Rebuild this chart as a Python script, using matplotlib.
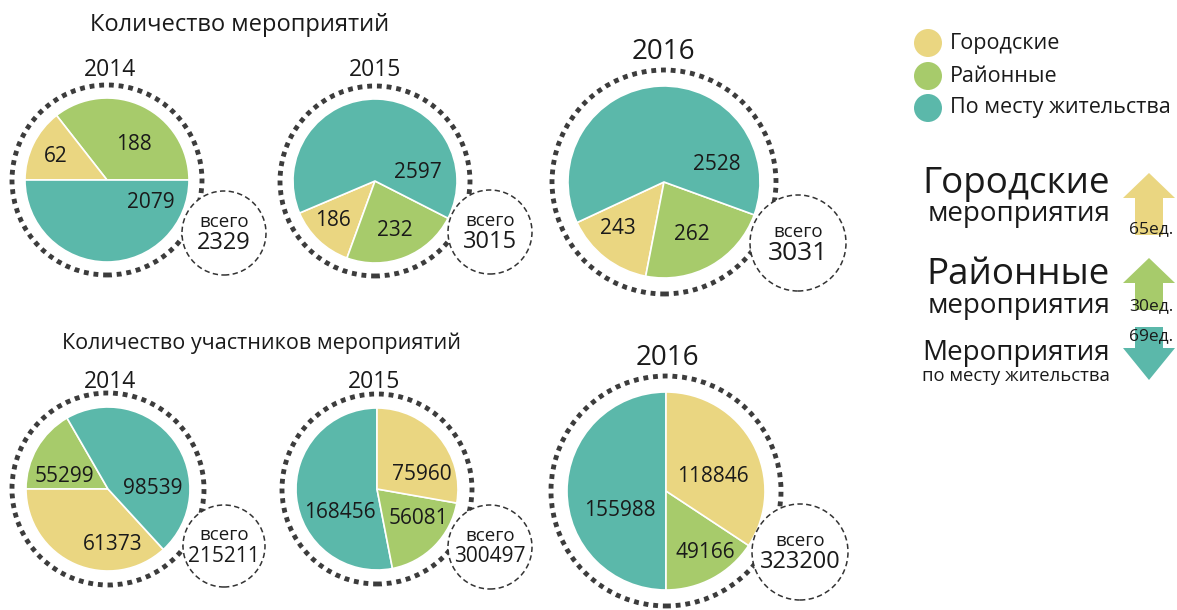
import matplotlib
matplotlib.use("Agg")
import matplotlib.pyplot as plt
from matplotlib.patches import Circle, FancyArrow

plt.rcParams['font.family'] = ['Open Sans', 'DejaVu Sans']

# ---------------- data ----------------
categories = ['Городские', 'Районные', 'По месту жительства']
years = ['2014', '2015', '2016']

events_city = [62, 186, 243]
events_district = [188, 232, 262]
events_residence = [2079, 2597, 2528]
events_total = [2329, 3015, 3031]

participants_city = [61373, 75960, 118846]
participants_district = [55299, 56081, 49166]
participants_residence = [98539, 168456, 155988]
participants_total = [215211, 300497, 323200]

# slice sizes as drawn in the infographic (degrees; order: city, district, residence)
events_drawn_deg = [[52, 128, 180], [47, 83, 230], [54, 81, 225]]
participants_drawn_deg = [[132.5, 60, 167.5], [100, 69, 191], [123.4, 56.6, 180]]

change_labels = ['65ед.', '30ед.', '69ед.']
change_direction = ['up', 'up', 'down']

title_events = 'Количество мероприятий'
title_participants = 'Количество участников мероприятий'
total_word = 'всего'

# ---------------- style / layout ----------------
colors = ['#EAD681', '#A7CB6B', '#5BB8AA']
ring_color = '#3C3C3C'
text_color = '#1A1A1A'
W, H = 1177, 610


def Y(y):
    return H - y


fig = plt.figure(figsize=(W / 100, H / 100), dpi=100)
ax = fig.add_axes([0, 0, 1, 1])

# layout per pie: center, pie radius, ring radius, start angle, ccw order, label offsets, total circle
ev_layout = [
    dict(c=(107, 180), r=82, ring=95, start=0, order=[1, 0, 2],
         lab=[(-51, -23), (27, -35), (44, 22)], tot=(224, 233, 42), year=(110, 70), ys=16.5, ts=17),
    dict(c=(375, 181), r=82, ring=95, start=203, order=[0, 1, 2],
         lab=[(-42, 39), (20, 49), (43, -8)], tot=(490, 232, 42), year=(375, 70), ys=16.5, ts=17),
    dict(c=(664, 182), r=96, ring=112, start=205, order=[0, 1, 2],
         lab=[(-46, 46), (28, 53), (53, -17)], tot=(798, 243, 48), year=(663, 52), ys=20, ts=19),
]
pa_layout = [
    dict(c=(108, 489), r=82, ring=96, start=120, order=[1, 0, 2],
         lab=[(5, 56), (-44, -12), (45, -1)], tot=(224, 546, 41), year=(110, 382), ys=16.5, ts=15),
    dict(c=(377, 489), r=81, ring=95, start=90, order=[2, 1, 0],
         lab=[(45, -15), (41, 29), (-37, 23)], tot=(490, 547, 42), year=(374, 382), ys=16.5, ts=15),
    dict(c=(666, 491), r=99, ring=115, start=90, order=[2, 1, 0],
         lab=[(47, -14), (39, 61), (-46, 20)], tot=(800, 552, 48), year=(667, 358), ys=20, ts=17),
]


def draw_group(values_by_year, drawn_deg, totals, layouts):
    for i, lay in enumerate(layouts):
        cx, cy = lay['c']
        vals = [values_by_year[k][i] for k in range(3)]
        sizes = [drawn_deg[i][k] for k in lay['order']]
        cols = [colors[k] for k in lay['order']]
        ax.pie(sizes, colors=cols, startangle=lay['start'], counterclock=True,
               center=(cx, Y(cy)), radius=lay['r'],
               wedgeprops=dict(edgecolor='white', linewidth=1.2))
        ax.add_patch(Circle((cx, Y(cy)), lay['ring'], fill=False, edgecolor=ring_color,
                            linewidth=3.5, linestyle=(0, (1.0, 1.0)), zorder=3))
        for k in range(3):
            dx, dy = lay['lab'][k]
            ax.text(cx + dx, Y(cy + dy), str(vals[k]), ha='center', va='center',
                    fontsize=15, color=text_color, zorder=5)
        ax.text(lay['year'][0], Y(lay['year'][1]), years[i], ha='center', va='center',
                fontsize=lay['ys'], color=text_color)
        tx, ty, tr = lay['tot']
        ax.add_patch(Circle((tx, Y(ty)), tr, facecolor='white', edgecolor='#333333',
                            linewidth=1.1, linestyle=(0, (3.5, 2.2)), zorder=4))
        ax.text(tx, Y(ty - 11), total_word, ha='center', va='center', fontsize=13.5,
                color=text_color, zorder=5)
        ax.text(tx, Y(ty + 10), str(totals[i]), ha='center', va='center', fontsize=lay['ts'],
                color=text_color, zorder=5)


draw_group([events_city, events_district, events_residence], events_drawn_deg,
           events_total, ev_layout)
draw_group([participants_city, participants_district, participants_residence],
           participants_drawn_deg, participants_total, pa_layout)

ax.text(240, Y(25), title_events, ha='center', va='center', fontsize=17, color=text_color)
ax.text(261, Y(343), title_participants, ha='center', va='center', fontsize=15.5, color=text_color)

# legend
for k, (ly, lab) in enumerate(zip([43, 76, 108], categories)):
    ax.add_patch(Circle((928, Y(ly)), 14, color=colors[k], ec='none'))
    ax.text(950, Y(ly), lab, ha='left', va='center', fontsize=15.5, color=text_color)

# change blocks
big = [('Городские', 'мероприятия'), ('Районные', 'мероприятия'), ('Мероприятия', 'по месту жительства')]
big_base = [(193, 221), (284, 313), (360, 381)]
big_sizes = [(26.5, 20), (26.5, 20), (20, 13.3)]
for k in range(3):
    (t1, t2), (b1, b2), (s1, s2) = big[k], big_base[k], big_sizes[k]
    ax.text(1110, Y(b1), t1, ha='right', va='baseline', fontsize=s1, color=text_color)
    ax.text(1110, Y(b2), t2, ha='right', va='baseline', fontsize=s2, color=text_color)

arrow_geom = [(235, 173, 198), (310, 258, 283), (327, 380, 348)]  # tail, tip, head base
label_y = [229, 306, 336]
for k in range(3):
    tail, tip, hb = arrow_geom[k]
    ax.add_patch(FancyArrow(1149, Y(tail), 0, Y(tip) - Y(tail), width=28, head_width=52,
                            head_length=abs(tip - hb), length_includes_head=True,
                            color=colors[k], ec='none', zorder=2))
    ax.text(1151, Y(label_y[k]), change_labels[k], ha='center', va='center', fontsize=12.5,
            color=text_color, zorder=3)

ax.set_xlim(0, W)
ax.set_ylim(0, H)
ax.set_aspect('equal')
ax.axis('off')
fig.savefig('out.png', dpi=100, facecolor='white')
